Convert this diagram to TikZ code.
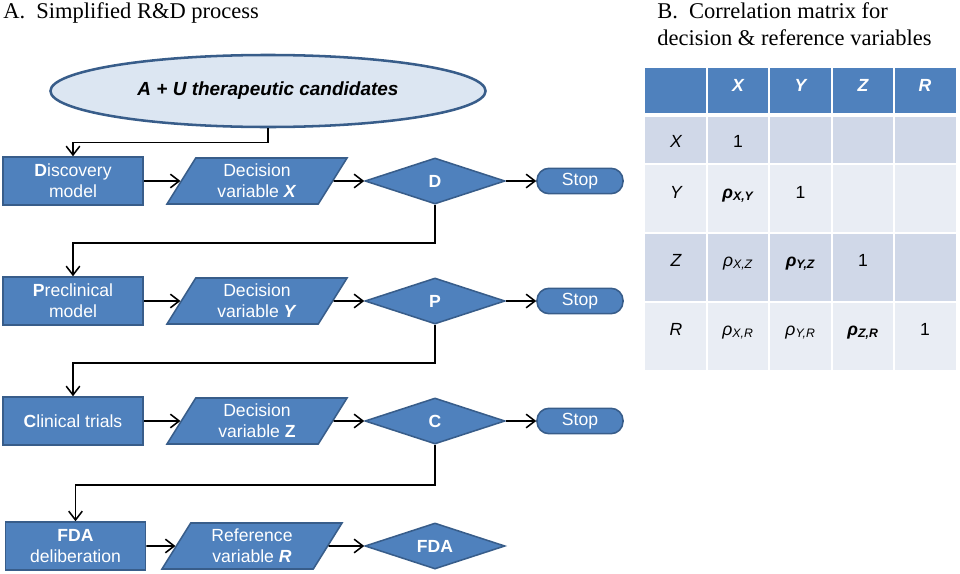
\documentclass[tikz,border=0pt]{standalone}
\usepackage{fontspec}
\setmainfont{Liberation Sans}
\newfontfamily\headfont{Liberation Serif}
\usetikzlibrary{arrows.meta,shapes.geometric}

\definecolor{boxblue}{HTML}{4F81BD}
\definecolor{edgeblue}{HTML}{385D8A}
\definecolor{paleblue}{HTML}{DCE6F2}
\definecolor{rowdark}{HTML}{D0D8E8}
\definecolor{rowlight}{HTML}{E9EDF4}

\begin{document}
\begin{tikzpicture}[x=0.025cm,y=-0.025cm,
  blue shape/.style={draw=edgeblue,fill=boxblue,line width=1.1pt,text=white,
    align=center,font=\fontsize{12.5}{15}\selectfont},
  stage/.style={blue shape,rectangle,minimum width=3.5cm,minimum height=1.2cm,inner sep=1pt},
  decvar/.style={blue shape,trapezium,trapezium left angle=52,trapezium right angle=128,
    trapezium stretches body,minimum width=4.5cm,minimum height=1.15cm,inner sep=1pt},
  gate/.style={blue shape,diamond,aspect=3,minimum width=3.5cm,minimum height=1.15cm,
    inner sep=0pt,font=\fontsize{12.5}{15}\selectfont\bfseries},
  halt/.style={blue shape,rectangle,rounded corners=0.3cm,minimum width=2.15cm,minimum height=0.6cm,
    text depth=0.5ex},
  flow/.style={-{Straight Barb[length=2.2mm,width=3.4mm]},line width=1.1pt},
  title/.style={anchor=base west,inner sep=0pt,font=\headfont\fontsize{16}{19}\selectfont},
  cell/.style={anchor=base,inner sep=0pt,font=\fontsize{12.5}{14}\selectfont}
]
\useasboundingbox (0,0) rectangle (960,573);

% panel A
\node[title] (titleA) at (3,18) {A.\ \ Simplified R\&D process};
\node[ellipse,draw=edgeblue,fill=paleblue,line width=1.8pt,minimum width=10.875cm,minimum height=1.8cm,
  font=\fontsize{13.5}{16}\selectfont\bfseries\itshape] (cand) at (268,91) {A + U therapeutic candidates};

\node[stage] (disc) at (73,181) {\textbf{D}iscovery\\model};
\node[decvar] (varX) at (257,181) {Decision\\variable \textbf{\textit{X}}};
\node[gate] (gD) at (435,181) {D};
\node[halt] (stopD) at (580,181) {Stop};

\node[stage] (precl) at (73,301) {\textbf{P}reclinical\\model};
\node[decvar] (varY) at (257,301) {Decision\\variable \textbf{\textit{Y}}};
\node[gate] (gP) at (435,301) {P};
\node[halt] (stopP) at (580,301) {Stop};

\node[stage] (clin) at (73,421) {\textbf{C}linical trials};
\node[decvar] (varZ) at (257,421) {Decision\\variable \textbf{Z}};
\node[gate] (gC) at (435,421) {C};
\node[halt] (stopC) at (580,421) {Stop};

\node[stage] (fda) at (75.5,546) {\textbf{FDA}\\deliberation};
\node[decvar] (varR) at (252,546) {Reference\\variable \textbf{\textit{R}}};
\node[gate] (gF) at (435,546) {FDA};

\draw[flow] (cand.south) -- ++(0,14) -| (disc.north);
\draw[flow] (gD.south) -- ++(0,38) -| (precl.north);
\draw[flow] (gP.south) -- ++(0,38) -| (clin.north);
\draw[flow] (gC.south) -- ++(0,40) -| (fda.north);

\foreach \a/\b/\c/\d in {disc/varX/gD/stopD,precl/varY/gP/stopP,clin/varZ/gC/stopC}{
  \draw[flow] (\a) -- (\b);
  \draw[flow] (\b) -- (\c);
  \draw[flow] (\c) -- (\d);
}
\draw[flow] (fda) -- (varR);
\draw[flow] (varR) -- (gF);

% panel B
\node[title] (titleB) at (657,18) {B.\ \ Correlation matrix for};
\node[title] (titleB2) at (657,45) {decision \& reference variables};

\foreach \top/\bot/\col in {68/113/boxblue,117/163/rowdark,165/232/rowlight,234/301/rowdark,303/370/rowlight}
  \foreach \l/\r in {645/706,708/768,770/831,833/893,895/956}
    \fill[\col] (\l,\top) rectangle (\r,\bot);

\foreach \v/\x in {X/738,Y/800.5,Z/863,R/925}
  \node[cell,text=white,font=\fontsize{12.5}{14}\selectfont\bfseries\itshape] (head\v) at (\x,91) {\v};
\foreach \v/\y in {X/147,Y/198,Z/266,R/335}
  \node[cell,font=\fontsize{12.5}{14}\selectfont\itshape] (lab\v) at (676,\y) {\v};

\node[cell] (oneX) at (738,147) {1};
\node[cell] (rhoXY) at (738,198) {\textbf{\textit{ρ\textsubscript{X,Y}}}};
\node[cell] (oneY) at (800.5,198) {1};
\node[cell] (rhoXZ) at (738,266) {\textit{ρ\textsubscript{X,Z}}};
\node[cell] (rhoYZ) at (800.5,266) {\textbf{\textit{ρ\textsubscript{Y,Z}}}};
\node[cell] (oneZ) at (863,266) {1};
\node[cell] (rhoXR) at (738,335) {\textit{ρ\textsubscript{X,R}}};
\node[cell] (rhoYR) at (800.5,335) {\textit{ρ\textsubscript{Y,R}}};
\node[cell] (rhoZR) at (863,335) {\textbf{\textit{ρ\textsubscript{Z,R}}}};
\node[cell] (oneR) at (925,335) {1};
\end{tikzpicture}
\end{document}
